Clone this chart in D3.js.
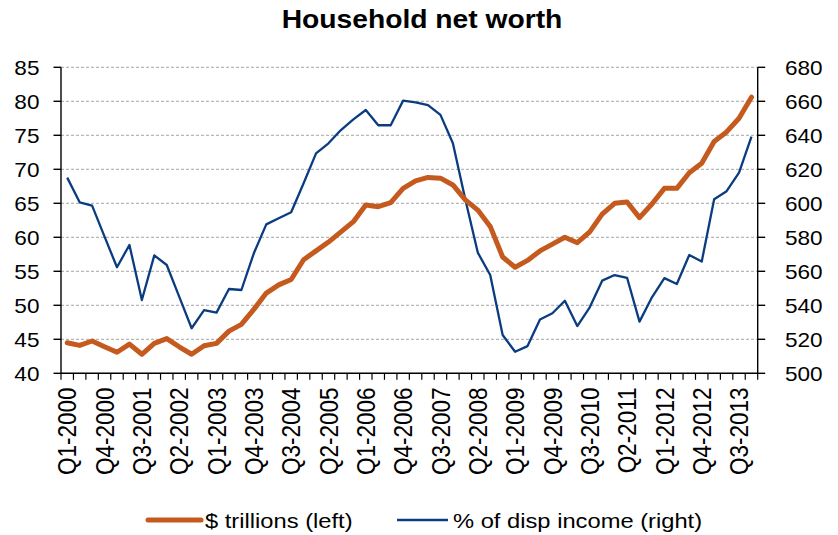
<!DOCTYPE html>
<html>
<head>
<meta charset="utf-8">
<script src="https://cdn.jsdelivr.net/npm/d3@7"></script>
<style>
  body { margin: 0; background: #fff; }
  text { font-family: "Liberation Sans", Arial, sans-serif; fill: #000; }
</style>
</head>
<body>
<svg width="838" height="535"></svg>
<script>
const quarters = [
  "Q1-2000","Q2-2000","Q3-2000","Q4-2000","Q1-2001","Q2-2001","Q3-2001","Q4-2001",
  "Q1-2002","Q2-2002","Q3-2002","Q4-2002","Q1-2003","Q2-2003","Q3-2003","Q4-2003",
  "Q1-2004","Q2-2004","Q3-2004","Q4-2004","Q1-2005","Q2-2005","Q3-2005","Q4-2005",
  "Q1-2006","Q2-2006","Q3-2006","Q4-2006","Q1-2007","Q2-2007","Q3-2007","Q4-2007",
  "Q1-2008","Q2-2008","Q3-2008","Q4-2008","Q1-2009","Q2-2009","Q3-2009","Q4-2009",
  "Q1-2010","Q2-2010","Q3-2010","Q4-2010","Q1-2011","Q2-2011","Q3-2011","Q4-2011",
  "Q1-2012","Q2-2012","Q3-2012","Q4-2012","Q1-2013","Q2-2013","Q3-2013","Q4-2013"
];

// $ trillions (left axis)
const trillions = [
  44.5, 44.1, 44.75, 43.9, 43.1, 44.3, 42.8, 44.4, 45.1, 43.9, 42.8, 44.05, 44.4, 46.2,
  47.2, 49.4, 51.8, 53.0, 53.8, 56.7, 58.0, 59.3, 60.8, 62.3, 64.75, 64.5, 65.1, 67.2,
  68.3, 68.8, 68.7, 67.7, 65.5, 64.0, 61.6, 57.1, 55.6, 56.6, 58.0, 59.0, 60.0, 59.2,
  60.8, 63.4, 65.0, 65.2, 62.9, 64.9, 67.2, 67.2, 69.5, 70.9, 74.1, 75.5, 77.5, 80.6
];

// % of disposable income (right axis)
const pctIncome = [
  615.1, 600.6, 598.6, 580.4, 562.4, 575.5, 543.1, 569.4, 563.7, 545.1, 526.5, 537.2, 535.7, 549.6,
  549.0, 570.6, 587.6, 591.2, 594.7, 611.8, 629.4, 635.3, 643.1, 649.4, 654.9, 645.9, 645.9, 660.4,
  659.4, 657.8, 652.0, 635.3, 602.2, 571.0, 557.8, 522.5, 512.7, 516.0, 531.6, 535.3, 542.7, 527.8,
  538.8, 554.5, 557.8, 556.2, 530.4, 544.7, 556.0, 552.5, 569.6, 565.7, 602.4, 607.1, 618.0, 639.2
];

const leftTicks = [40, 45, 50, 55, 60, 65, 70, 75, 80, 85];
const rightTicks = [500, 520, 540, 560, 580, 600, 620, 640, 660, 680];
const labelEvery = 3;

const orange = "#C55A1E";
const blue = "#0A3C80";
const sx = 1.13; // glyphs in the reference are slightly wide

const svg = d3.select("svg");
const plotLeft = 61, plotRight = 757.7, plotTop = 67.3, plotBottom = 373.3;

const x = d3.scaleBand().domain(quarters).range([plotLeft, plotRight]);
const yL = d3.scaleLinear().domain([40, 85]).range([plotBottom, plotTop]);
const yR = d3.scaleLinear().domain([500, 680]).range([plotBottom, plotTop]);
const cx = d => x(d) + x.bandwidth() / 2;

// title
svg.append("text")
  .attr("transform", `translate(422,27.5) scale(${sx},1)`)
  .attr("text-anchor", "middle")
  .attr("font-size", 25)
  .attr("font-weight", "bold")
  .text("Household net worth");

// gridlines
svg.append("g")
  .selectAll("line")
  .data(leftTicks.filter(d => d > 40))
  .enter().append("line")
  .attr("x1", plotLeft).attr("x2", plotRight)
  .attr("y1", d => yL(d)).attr("y2", d => yL(d))
  .attr("stroke", "#A6A6A6")
  .attr("stroke-width", 1)
  .attr("stroke-dasharray", "3,2");

// left axis
const gl = svg.append("g");
gl.append("line").attr("x1", plotLeft).attr("x2", plotLeft).attr("y1", plotTop).attr("y2", plotBottom)
  .attr("stroke", "#000").attr("stroke-width", 1.4);
gl.selectAll(".tk").data(leftTicks).enter().append("line")
  .attr("x1", plotLeft - 7.5).attr("x2", plotLeft)
  .attr("y1", d => yL(d)).attr("y2", d => yL(d))
  .attr("stroke", "#000").attr("stroke-width", 1.4);
gl.selectAll("text").data(leftTicks).enter().append("text")
  .attr("transform", d => `translate(39.5,${yL(d)}) scale(${sx},1)`)
  .attr("dy", "0.36em")
  .attr("text-anchor", "end")
  .attr("font-size", 20)
  .text(d => d);

// right axis
const gr = svg.append("g");
gr.append("line").attr("x1", plotRight).attr("x2", plotRight).attr("y1", plotTop).attr("y2", plotBottom)
  .attr("stroke", "#000").attr("stroke-width", 1.4);
gr.selectAll(".tk").data(rightTicks).enter().append("line")
  .attr("x1", plotRight).attr("x2", plotRight + 7.5)
  .attr("y1", d => yR(d)).attr("y2", d => yR(d))
  .attr("stroke", "#000").attr("stroke-width", 1.4);
gr.selectAll("text").data(rightTicks).enter().append("text")
  .attr("transform", d => `translate(785,${yR(d)}) scale(${sx},1)`)
  .attr("dy", "0.36em")
  .attr("text-anchor", "start")
  .attr("font-size", 20)
  .text(d => d);

// x axis
const gx = svg.append("g");
gx.append("line").attr("x1", plotLeft).attr("x2", plotRight).attr("y1", plotBottom).attr("y2", plotBottom)
  .attr("stroke", "#000").attr("stroke-width", 1.4);
gx.selectAll(".tk").data(d3.range(quarters.length + 1)).enter().append("line")
  .attr("x1", i => plotLeft + i * x.step()).attr("x2", i => plotLeft + i * x.step())
  .attr("y1", plotBottom).attr("y2", plotBottom + 6.5)
  .attr("stroke", "#000").attr("stroke-width", 1.2);
gx.selectAll("text").data(quarters.filter((q, i) => i % labelEvery === 0)).enter().append("text")
  .attr("transform", d => `translate(${cx(d)},387.5) rotate(-90) scale(1,${sx})`)
  .attr("dy", "0.36em")
  .attr("text-anchor", "end")
  .attr("font-size", 22.5)
  .text(d => d);

// lines
const lineL = d3.line().x((d, i) => cx(quarters[i])).y(d => yL(d));
const lineR = d3.line().x((d, i) => cx(quarters[i])).y(d => yR(d));

svg.append("path").datum(pctIncome)
  .attr("d", lineR)
  .attr("fill", "none")
  .attr("stroke", blue)
  .attr("stroke-width", 2.3)
  .attr("stroke-linejoin", "round");

svg.append("path").datum(trillions)
  .attr("d", lineL)
  .attr("fill", "none")
  .attr("stroke", orange)
  .attr("stroke-width", 5)
  .attr("stroke-linejoin", "round")
  .attr("stroke-linecap", "round");

// legend
const lg = svg.append("g");
lg.append("line").attr("x1", 148).attr("x2", 201).attr("y1", 520).attr("y2", 520)
  .attr("stroke", orange).attr("stroke-width", 5).attr("stroke-linecap", "round");
lg.append("text")
  .attr("transform", `translate(205,520) scale(${sx},1)`)
  .attr("dy", "0.36em")
  .attr("font-size", 21)
  .text("$ trillions (left)");
lg.append("line").attr("x1", 397).attr("x2", 448).attr("y1", 520).attr("y2", 520)
  .attr("stroke", blue).attr("stroke-width", 2.3);
lg.append("text")
  .attr("transform", `translate(453,520) scale(${sx},1)`)
  .attr("dy", "0.36em")
  .attr("font-size", 21)
  .text("% of disp income (right)");
</script>
</body>
</html>
